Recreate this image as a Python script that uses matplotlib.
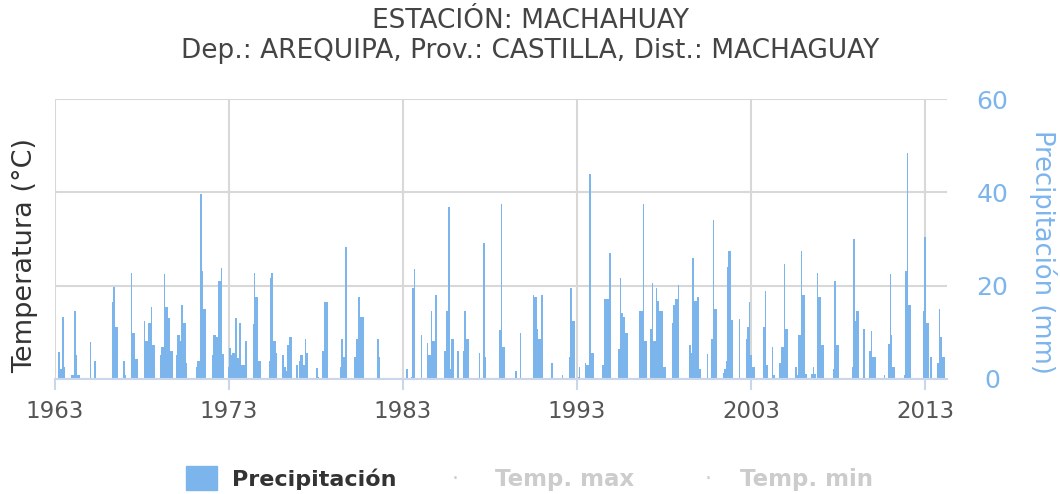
import matplotlib
matplotlib.use("Agg")
import matplotlib.pyplot as plt
from matplotlib.patches import Rectangle
import numpy as np

# monthly precipitation (mm), one row per year, Jan..Dec
prec_1963_1972 = [
    0, 0, 0, 5.7, 2.1, 2.1, 13.3, 2.6, 0, 0, 0, 0,
    0.9, 0.9, 14.6, 5.1, 0.9, 0.9, 0, 0, 0, 0, 0, 0,
    0, 7.9, 0, 0, 3.9, 0, 0, 0, 0, 0, 0, 0,
    0, 0, 0, 0, 16.4, 19.8, 11.2, 11.2, 0, 0, 0, 0,
    3.9, 0.9, 0, 0, 0, 22.8, 9.9, 9.9, 4.3, 4.3, 0, 0,
    0, 0, 12.4, 8.2, 8.2, 12.1, 12.1, 15.5, 7.3, 7.3, 0, 0,
    0, 5.1, 6.9, 6.9, 22.4, 15.5, 15.5, 13.0, 6.1, 6.1, 0, 0,
    5.1, 9.4, 9.4, 8.2, 15.9, 12.1, 12.1, 3.5, 0, 0, 0, 0,
    0, 0, 2.6, 3.9, 3.9, 39.6, 23.2, 15.1, 15.1, 0, 0, 0,
    0, 5.1, 9.4, 9.4, 9.1, 21.1, 21.1, 23.7, 5.3, 0, 0, 0,
]
prec_1973_1982 = [
    2.6, 6.6, 5.1, 5.6, 5.6, 13.0, 4.4, 4.4, 12.1, 3.0, 3.0, 3.0,
    8.2, 0, 0, 0, 0, 11.7, 22.8, 17.6, 17.6, 3.9, 3.9, 0,
    0, 0, 0, 0, 3.9, 21.6, 22.8, 8.2, 8.2, 5.6, 0, 0,
    0, 5.1, 5.1, 2.6, 1.8, 7.3, 9.1, 9.1, 0, 0, 0, 3.0,
    0, 3.9, 5.1, 5.1, 3.0, 8.6, 5.6, 0, 0, 0, 0, 0,
    0, 2.3, 0.4, 0, 0, 6.1, 16.4, 16.4, 16.4, 0, 0, 0,
    0, 0, 0, 0, 0, 2.6, 8.6, 4.8, 4.8, 28.3, 0, 0,
    0, 0, 0, 4.8, 8.6, 8.6, 17.6, 13.3, 13.3, 13.3, 0, 0,
    0, 0, 0, 0, 0, 0, 0, 8.6, 4.8, 0, 0, 0,
    0, 0, 0, 0, 0, 0, 0, 0, 0, 0, 0, 0,
]
prec_1983_1992 = [
    0, 0, 0, 2.1, 0, 0, 0.4, 19.4, 23.6, 0, 0, 0,
    0, 9.5, 0, 0, 0, 7.8, 5.1, 5.1, 14.6, 8.2, 8.2, 18.0,
    0, 0, 0, 0, 0, 6.1, 14.6, 14.6, 36.9, 2.2, 8.6, 8.6,
    0, 0, 6.1, 0, 0, 0, 6.1, 14.6, 8.6, 8.6, 0, 0,
    0, 0, 0, 0, 0, 5.6, 0, 0, 29.2, 4.8, 0, 0,
    0, 0, 0, 0, 0, 0, 0, 10.4, 37.4, 6.9, 6.9, 0,
    0, 0, 0, 0, 0, 0, 1.8, 0, 0, 9.9, 0, 0,
    0, 0, 0, 0, 0, 0, 18.1, 17.6, 17.6, 10.8, 8.6, 8.6,
    18.1, 0, 0, 0, 0, 0, 0, 3.5, 0, 0, 0, 0,
    0, 0, 0.9, 0, 0, 0, 0, 4.8, 19.4, 12.5, 12.5, 0,
]
prec_1993_2002 = [
    0, 0.4, 2.6, 0, 0, 0, 3.5, 3.0, 3.0, 43.9, 5.6, 5.6,
    0, 0, 0, 0, 0, 0, 3.0, 17.1, 17.1, 17.1, 17.1, 27.1,
    0, 0, 0, 0, 0, 6.4, 21.6, 14.2, 13.3, 13.3, 9.9, 9.9,
    0, 0, 0, 0, 0, 0, 0, 14.6, 14.6, 14.6, 37.4, 8.2,
    8.2, 0, 0, 10.7, 20.6, 8.2, 8.2, 19.4, 16.8, 14.6, 14.6, 14.6,
    2.6, 2.6, 0, 0, 0, 0, 12.1, 15.9, 17.2, 17.2, 20.2, 0,
    0, 0, 0, 0, 0, 0, 7.3, 5.6, 25.9, 16.8, 16.8, 17.6,
    17.6, 2.1, 0, 0, 0, 0, 5.3, 0, 0, 8.6, 34.1, 15.1,
    15.1, 0, 0, 0, 0, 1.3, 2.1, 3.9, 24.1, 27.5, 27.5, 12.6,
    0, 0, 0, 0, 12.9, 0, 0, 0, 0, 8.6, 11.2, 16.4,
]
prec_2003_2014 = [
    5.1, 2.6, 2.6, 0, 0, 0, 0, 0, 0, 11.2, 18.9, 3.0,
    0, 0, 0, 6.9, 0.9, 0, 0, 0, 3.5, 6.9, 6.9, 24.6,
    10.8, 10.8, 0, 0, 0, 0, 0, 2.6, 0.9, 9.4, 9.4, 27.5,
    18.1, 18.1, 1.1, 0, 0, 0, 1.1, 2.6, 1.1, 0, 22.8, 17.6,
    17.6, 7.3, 7.3, 0, 0, 0, 0, 0, 0, 2.1, 21.1, 7.3,
    7.3, 0, 0, 0, 0, 0, 0, 0, 0, 0, 2.6, 30.1,
    12.5, 14.6, 14.6, 0, 0, 0, 10.8, 0, 0, 0, 6.1, 10.3,
    4.8, 4.8, 4.8, 0, 0, 0, 0, 0, 0.9, 0, 0, 7.6,
    22.4, 9.4, 2.6, 2.6, 0, 0, 0, 0, 0, 0, 0.9, 23.2,
    48.5, 15.9, 15.9, 0, 0, 0, 0, 0, 0, 0, 0, 14.6,
    30.5, 12.1, 12.1, 0, 4.8, 0, 0, 0, 0, 3.5, 15.1, 9.1,
    4.8, 4.8, 0, 0,
]

year_ticks = [1963, 1973, 1983, 1993, 2003, 2013]
prec_ticks = [0, 20, 40, 60]

precip = np.array(prec_1963_1972 + prec_1973_1982 + prec_1983_1992
                  + prec_1993_2002 + prec_2003_2014)
months = 1963 + np.arange(len(precip)) / 12.0

blue = '#7cb5ec'
grid_c = '#d8d8d8'

fig = plt.figure(figsize=(10.6, 4.94), dpi=100)
ax = fig.add_axes([54.5 / 1060, 1 - 379 / 494, 892 / 1060, 280 / 494])

ax.bar(months, precip, width=1 / 12, color=blue, linewidth=0, align='center', zorder=3)

ax.set_xlim(1963, 2014.23)
ax.set_ylim(0, 60)
ax.set_xticks(year_ticks)
ax.set_xticklabels([str(y) for y in year_ticks])
ax.set_yticks(prec_ticks)

ax.grid(True, color=grid_c, linewidth=1.5, zorder=0)
for s in ['top', 'left', 'right']:
    ax.spines[s].set_visible(False)
ax.spines['bottom'].set_color('#ccd6eb')
ax.spines['bottom'].set_linewidth(1.5)
ax.spines['bottom'].set_zorder(4)

ax.tick_params(axis='x', length=8, width=1.5, color='#ccd6eb', pad=7,
               labelsize=16.5, labelcolor='#555555')
ax.yaxis.set_ticks_position('right')
ax.tick_params(axis='y', length=0, pad=33, labelsize=18, labelcolor=blue)
for lab in ax.get_yticklabels():
    lab.set_horizontalalignment('center')

# titles
fig.text(0.5, 1 - 21 / 494, 'ESTACIÓN: MACHAHUAY', ha='center', va='center',
         fontsize=19, color='#444444')
fig.text(0.5, 1 - 51 / 494, 'Dep.: AREQUIPA, Prov.: CASTILLA, Dist.: MACHAGUAY',
         ha='center', va='center', fontsize=19, color='#444444')

fig.text(25 / 1060, 1 - 255 / 494, 'Temperatura (°C)', rotation=90,
         ha='center', va='center', fontsize=19.5, color='#333333')
fig.text(1043 / 1060, 1 - 252 / 494, 'Precipitación (mm)', rotation=270,
         ha='center', va='center', fontsize=18.5, color=blue)

# legend
fig.patches.append(Rectangle((186 / 1060, 1 - 490 / 494), 31 / 1060, 24 / 494,
                             transform=fig.transFigure, color=blue))
ly = 1 - 479 / 494
fig.text(232 / 1060, ly, 'Precipitación', ha='left', va='center',
         fontsize=16, fontweight='bold', color='#333333')
fig.text(455 / 1060, ly, '·', ha='center', va='center', fontsize=16, color='#cccccc')
fig.text(495 / 1060, ly, 'Temp. max', ha='left', va='center',
         fontsize=16.5, fontweight='bold', color='#cccccc')
fig.text(708 / 1060, ly, '·', ha='center', va='center', fontsize=16, color='#cccccc')
fig.text(740 / 1060, ly, 'Temp. min', ha='left', va='center',
         fontsize=16.5, fontweight='bold', color='#cccccc')

fig.savefig('out.png', dpi=100)
